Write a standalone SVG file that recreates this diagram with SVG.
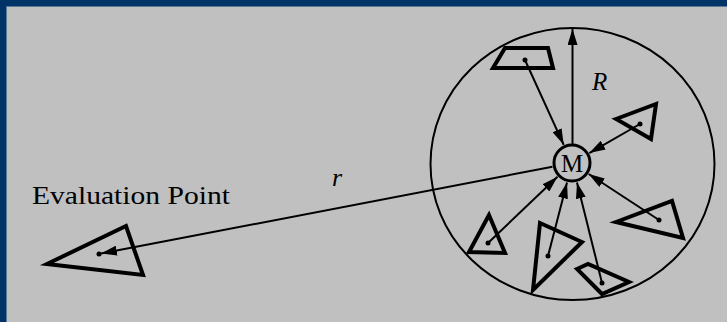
<svg xmlns="http://www.w3.org/2000/svg" width="727" height="322" viewBox="0 0 727 322">
<style>
.shape{fill:none;stroke:#000;stroke-width:4;stroke-linejoin:miter}
.conn{fill:none;stroke:#000;stroke-width:2}
.dot{fill:#000}
.lbl{font-family:"Liberation Serif","Times New Roman",serif;fill:#000}
</style>
<defs>
<marker id="ah" viewBox="0 0 16 10" refX="16" refY="5" markerWidth="16" markerHeight="10" markerUnits="userSpaceOnUse" orient="auto">
<path d="M0,0 L16,5 L0,10 z" fill="#000"/>
</marker>
</defs>
<rect x="0" y="0" width="727" height="322" fill="#c0c0c0"/>
<rect x="0" y="0" width="727" height="6" fill="#003366"/>
<rect x="0" y="0" width="6" height="322" fill="#003366"/>
<line x1="6" y1="6.5" x2="727" y2="6.5" stroke="#5a7898" stroke-width="1"/>
<line x1="6.5" y1="6" x2="6.5" y2="322" stroke="#5a7898" stroke-width="1"/>

<g id="region">
<ellipse cx="572.5" cy="164" rx="142" ry="136" fill="none" stroke="#000" stroke-width="2"/>
</g>

<g id="connectors">
<line class="conn" x1="572.5" y1="145" x2="572.5" y2="29" marker-end="url(#ah)"/>
<line class="conn" x1="525" y1="60" x2="563.7" y2="144.8" marker-end="url(#ah)"/>
<line class="conn" x1="640" y1="124" x2="589.3" y2="153.1" marker-end="url(#ah)"/>
<line class="conn" x1="659" y1="220" x2="588.7" y2="174" marker-end="url(#ah)"/>
<line class="conn" x1="488" y1="243" x2="557.5" y2="176.8" marker-end="url(#ah)"/>
<line class="conn" x1="548" y1="256" x2="567" y2="182.4" marker-end="url(#ah)"/>
<line class="conn" x1="602" y1="283" x2="577" y2="182.4" marker-end="url(#ah)"/>
<line class="conn" x1="552.4" y1="166.8" x2="101" y2="253.6" marker-end="url(#ah)"/>
</g>

<g id="M">
<circle cx="572" cy="163" r="18" fill="#c0c0c0" stroke="#000" stroke-width="3"/>
<text class="lbl" x="572" y="172" font-size="25" text-anchor="middle">M</text>
</g>

<g id="trapezoid">
<polygon class="shape" points="505,48 548,48 553,68 493,68"/>
<circle class="dot" cx="525" cy="60" r="2.5"/>
</g>
<g id="tri-upper-right">
<polygon class="shape" points="616,119 656,104 651,139"/>
<circle class="dot" cx="640" cy="124" r="2.5"/>
</g>
<g id="tri-lower-right">
<polygon class="shape" points="616,222 672,201 683,238"/>
<circle class="dot" cx="659" cy="220" r="2.5"/>
</g>
<g id="tri-small">
<polygon class="shape" points="489,215 469,252 505,253"/>
<circle class="dot" cx="488" cy="243" r="2.5"/>
</g>
<g id="tri-tall">
<polygon class="shape" points="540,223 582,242 533,290"/>
<circle class="dot" cx="548" cy="256" r="2.5"/>
</g>
<g id="quad">
<polygon class="shape" points="577,269 588,264 629,282 602,294"/>
<circle class="dot" cx="602" cy="283" r="2.5"/>
</g>
<g id="eval-point">
<polygon class="shape" points="47,264 126,226 143,275"/>
<circle class="dot" cx="99" cy="254" r="2.5"/>
<text class="lbl" x="32" y="204" font-size="25" textLength="198" lengthAdjust="spacingAndGlyphs">Evaluation Point</text>
</g>

<g id="labels">
<text class="lbl" x="592" y="90" font-size="25" font-style="italic">R</text>
<text class="lbl" x="332" y="186" font-size="26" font-style="italic">r</text>
</g>
</svg>
